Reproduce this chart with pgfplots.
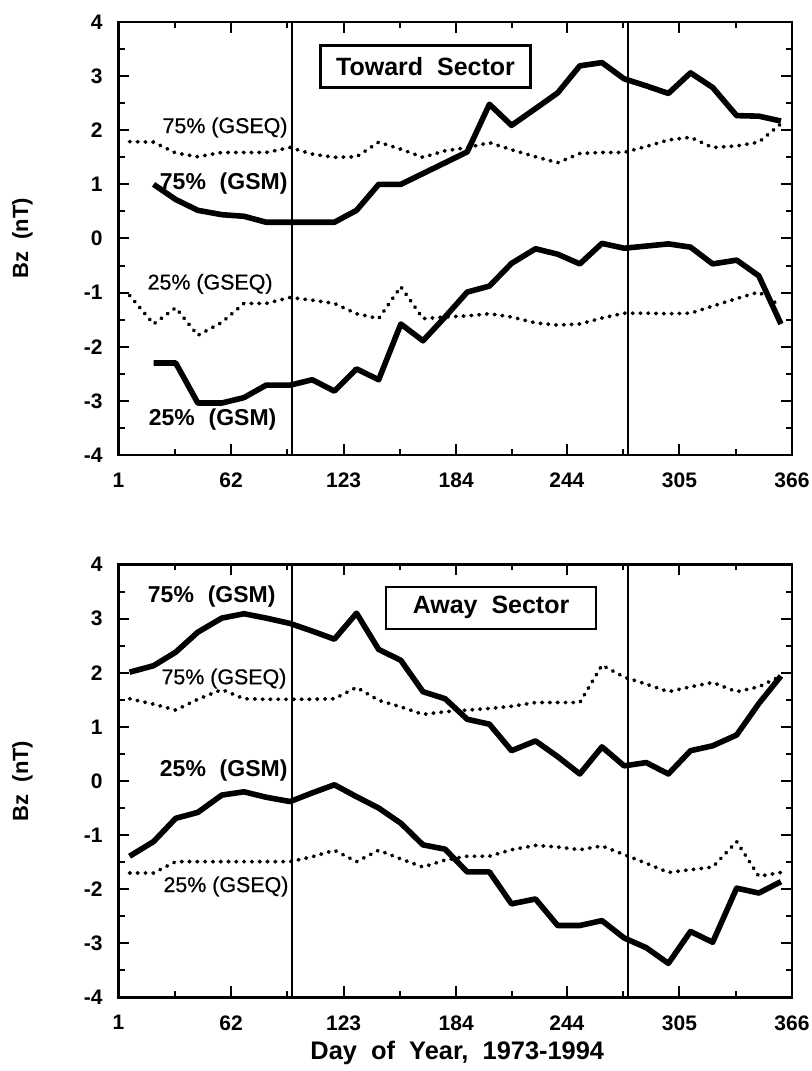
\documentclass[border=0pt]{standalone}
\usepackage{fontspec}
\setmainfont{Liberation Sans}
\newfontfamily\medfam{Liberation Sans}[FakeBold=0.7]
\usepackage{pgfplots}
\pgfplotsset{compat=1.18}
\usepackage{pgfplotstable}

\pgfplotstableread{
day g75 e75 g25 e25
7 nan 1.79 nan -1.05
20 1.00 1.78 -2.30 -1.58
32 0.72 1.58 -2.30 -1.28
44 0.52 1.51 -3.04 -1.79
57 0.44 1.59 -3.04 -1.55
69 0.41 1.59 -2.94 -1.20
81 0.30 1.59 -2.71 -1.20
94 0.30 1.68 -2.71 -1.09
106 0.30 1.56 -2.61 -1.14
118 0.30 1.50 -2.82 -1.20
130 0.52 1.51 -2.41 -1.39
142 1.00 1.78 -2.61 -1.48
154 1.00 1.65 -1.58 -0.89
166 1.20 1.50 -1.89 -1.48
178 1.40 1.62 -1.45 -1.45
190 1.60 1.68 -0.99 -1.43
202 2.48 1.77 -0.88 -1.39
214 2.09 1.64 -0.46 -1.45
227 2.40 1.51 -0.19 -1.56
239 2.69 1.40 -0.29 -1.60
251 3.19 1.57 -0.47 -1.58
263 3.25 1.59 -0.09 -1.47
275 2.95 1.59 -0.18 -1.38
287 2.82 1.70 -0.14 -1.38
299 2.68 1.82 -0.10 -1.39
311 3.06 1.87 -0.16 -1.38
323 2.79 1.68 -0.47 -1.25
336 2.27 1.71 -0.40 -1.11
348 2.26 1.78 -0.69 -0.99
360 2.17 2.12 -1.58 -1.25
}\toward

\pgfplotstableread{
day g75 e75 g25 e25
7 2.01 1.52 -1.39 -1.70
20 2.13 1.42 -1.12 -1.70
32 2.38 1.31 -0.69 -1.49
44 2.75 1.51 -0.58 -1.49
57 3.01 1.69 -0.26 -1.49
69 3.09 1.52 -0.20 -1.49
81 3.01 1.51 -0.30 -1.49
94 2.91 1.51 -0.38 -1.49
106 2.77 1.51 -0.22 -1.40
118 2.62 1.52 -0.07 -1.28
130 3.10 1.73 -0.29 -1.49
142 2.43 1.49 -0.50 -1.28
154 2.23 1.37 -0.78 -1.44
166 1.65 1.23 -1.18 -1.59
178 1.52 1.28 -1.26 -1.46
190 1.14 1.31 -1.68 -1.39
202 1.05 1.34 -1.68 -1.39
214 0.56 1.38 -2.27 -1.27
227 0.74 1.45 -2.18 -1.19
239 0.45 1.45 -2.67 -1.22
251 0.13 1.45 -2.67 -1.27
263 0.63 2.14 -2.58 -1.20
275 0.28 1.92 -2.90 -1.36
287 0.34 1.79 -3.08 -1.52
299 0.13 1.65 -3.37 -1.69
311 0.56 1.74 -2.78 -1.64
323 0.65 1.82 -2.98 -1.59
336 0.85 1.65 -1.98 -1.12
348 1.43 1.74 -2.07 -1.76
360 1.94 1.94 -1.86 -1.69
}\away

\newcommand\gsmfont{\fontsize{11.5}{13}\selectfont\bfseries}
\newcommand\gseqfont{\fontsize{10.7}{12}\selectfont\medfam}
\newcommand\boxfont{\fontsize{12.5}{14}\selectfont\bfseries}

\tikzset{
  lab/.style={anchor=east, inner sep=0pt},
  sbox/.style={draw, line width=1.2pt, minimum width=105pt, minimum height=21pt, inner sep=0pt, font=\boxfont, fill=white},
}

\pgfplotsset{
  bzaxis/.style={
    scale only axis, width=336.75pt, height=216.5pt,
    xmin=1, xmax=366, ymin=-4, ymax=4,
    xtick={1,62,123,184,244,305,366},
    xticklabels={1,62,123,184,244,305,366},
    minor xtick={31.5,92.5,153.5,214,274.5,335.5},
    ytick={-4,-3,-2,-1,0,1,2,3,4},
    yticklabels={-4,-3,-2,-1,0,1,2,3,4},
    minor ytick={-3.5,-2.5,-1.5,-0.5,0.5,1.5,2.5,3.5},
    tick align=inside, xtick pos=both, ytick pos=both,
    xticklabel pos=lower, yticklabel pos=left,
    major tick length=5.5pt, minor tick length=3pt,
    every tick/.style={black, line width=1pt},
    axis line style={line width=1.3pt},
    ticklabel style={font=\fontsize{10.5}{12}\selectfont\bfseries},
    yticklabel style={xshift=-4.5pt},
    xticklabel style={yshift=-5.5pt},
    ylabel={Bz\ \ (nT)},
    every axis y label/.style={at={(axis description cs:-0.1425,0.5)}, anchor=center, rotate=90, font=\fontsize{11}{12}\selectfont\bfseries},
    no markers, clip=false,
  },
  gsm/.style={black, line width=2.8pt, line join=round},
  gseq/.style={black, line width=1.9pt, line cap=round, dash pattern=on 0.3pt off 3.6pt},
  vline/.style={black, line width=1pt},
}

\begin{document}
\begin{tikzpicture}
\useasboundingbox (0,0) rectangle (405.5pt,535.5pt);

\begin{axis}[bzaxis, at={(59.25pt,524.5pt)}, anchor=north west]
\addplot[vline] coordinates {(95,-4) (95,4)};
\addplot[vline] coordinates {(277,-4) (277,4)};
\addplot[gseq] table[x=day,y=e75]{\toward};
\addplot[gseq] table[x=day,y=e25]{\toward};
\addplot[gsm] table[x=day,y=g75]{\toward};
\addplot[gsm] table[x=day,y=g25]{\toward};
\node[lab, font=\gseqfont] at (axis cs:92.8,2.05) {75\% (GSEQ)};
\node[lab, font=\gsmfont] at (axis cs:92.8,1.02) {75\%\hspace{0.6em}(GSM)};
\node[lab, font=\gseqfont] at (axis cs:84.7,-0.84) {25\% (GSEQ)};
\node[lab, font=\gsmfont] at (axis cs:86.8,-3.35) {25\%\hspace{0.6em}(GSM)};
\node[sbox] at (axis cs:167.4,3.18) {Toward\ \ Sector};
\end{axis}

\begin{axis}[bzaxis, at={(59.25pt,253.25pt)}, anchor=north west,
  xlabel={Day\ \ of\ \ Year,\ \ 1973-1994},
  every axis x label/.style={at={(axis description cs:0.503,-0.127)}, anchor=center, font=\fontsize{12.7}{14}\selectfont\bfseries}]
\addplot[vline] coordinates {(95,-4) (95,4)};
\addplot[vline] coordinates {(277,-4) (277,4)};
\addplot[gseq] table[x=day,y=e75]{\away};
\addplot[gseq] table[x=day,y=e25]{\away};
\addplot[gsm] table[x=day,y=g75]{\away};
\addplot[gsm] table[x=day,y=g25]{\away};
\node[lab, font=\gsmfont] at (axis cs:86.3,3.40) {75\%\hspace{0.6em}(GSM)};
\node[lab, font=\gseqfont] at (axis cs:92.2,1.89) {75\% (GSEQ)};
\node[lab, font=\gsmfont] at (axis cs:92.8,0.20) {25\%\hspace{0.6em}(GSM)};
\node[lab, font=\gseqfont] at (axis cs:93.3,-1.95) {25\% (GSEQ)};
\node[sbox] at (axis cs:202.9,3.20) {Away\ \ Sector};
\end{axis}
\end{tikzpicture}
\end{document}
